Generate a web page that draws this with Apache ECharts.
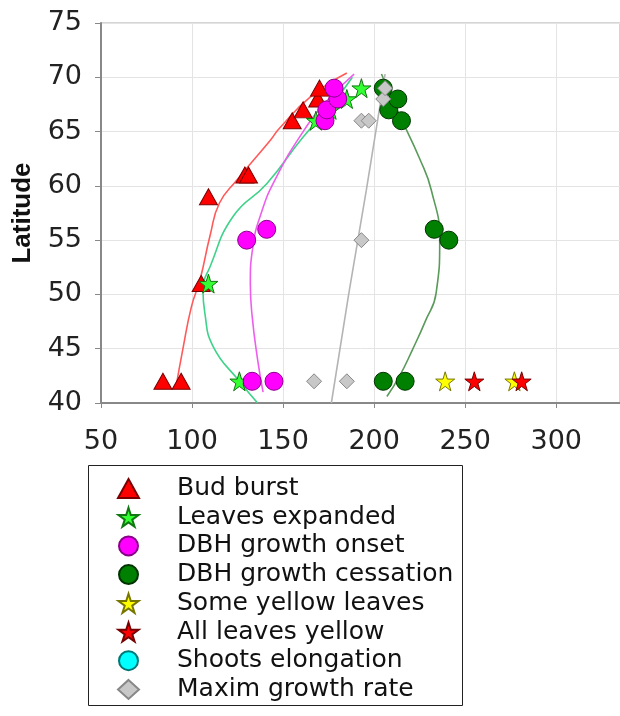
<!DOCTYPE html>
<html>
<head>
<meta charset="utf-8">
<script src="https://cdn.jsdelivr.net/npm/echarts@6/dist/echarts.min.js"></script>
<style>
  html, body { margin: 0; padding: 0; background: #fff; }
  #chart { width: 620px; height: 716px; }
</style>
</head>
<body>
<div id="chart"></div>
<script>
  // points: [day of year, latitude]
  var budBurst = [[84, 42], [94, 42], [105, 51], [109, 59], [129, 61], [131, 61], [155, 66], [161, 67], [169, 68], [170, 69]];
  var leavesExpanded = [[109, 51], [126, 42], [168, 66], [176, 67], [185, 68], [193, 69]];
  var dbhOnset = [[130, 55], [141, 56], [133, 42], [145, 42], [173, 66], [174, 67], [180, 68], [178, 69]];
  var dbhCessation = [[205, 42], [217, 42], [233, 56], [241, 55], [215, 66], [208, 67], [213, 68], [205, 69]];
  var someYellow = [[239, 42], [277, 42]];
  var allYellow = [[255, 42], [281, 42]];
  var shootsElong = [];
  var maxGrowth = [[167, 42], [185, 42], [193, 55], [193, 66], [197, 66], [205, 68], [206, 69]];

  // fitted curves
  var fitBudBurst = [[91, 41.3], [95, 45], [99.7, 48.9], [104.3, 51.3], [110, 55.5], [115, 58.4], [124.4, 60.5], [143, 64.2], [148, 65.3], [165, 68.2], [185, 70.4]];
  var fitLeaves = [[136, 40], [126, 42], [111.6, 45.2], [107, 48.3], [106, 50.4], [110, 52.6], [122.6, 57.2], [141, 60.2], [161, 64.5], [176, 67.3], [188, 70]];
  var fitOnset = [[139, 41], [136, 44], [133, 48], [132, 51], [133.4, 54.4], [138, 57.5], [145.4, 60.5], [161, 65], [175, 68], [189, 70.3]];
  var fitCessation = [[207, 40.6], [214, 42.5], [221, 44.9], [228, 47.5], [234, 50.1], [236, 55], [231.4, 59.6], [225, 62.5], [214, 66.5], [204, 70.3]];
  var fitMaxGrowth = [[176.5, 40], [186, 50], [195.7, 59.6], [206, 70.3]];

  var xTicks = [50, 100, 150, 200, 250, 300];
  var yTicks = [40, 45, 50, 55, 60, 65, 70, 75];

  var starPath = 'path://M50,0 L61,35 L98,35 L68,57 L79,91 L50,70 L21,91 L32,57 L2,35 L39,35 Z';
  var legendNames = ['Bud burst', 'Leaves expanded', 'DBH growth onset', 'DBH growth cessation',
    'Some yellow leaves', 'All leaves yellow', 'Shoots elongation', 'Maxim growth rate'];

  function fitLine(data, color) {
    return {
      type: 'line', data: data, smooth: 0.5, symbol: 'none', silent: true, z: 1,
      lineStyle: { color: color, width: 1.6 }
    };
  }

  function dots(name, data, symbol, size, color, border) {
    return {
      name: name, type: 'scatter', data: data, symbol: symbol, symbolSize: size, z: 3,
      itemStyle: { color: color, borderColor: border, borderWidth: 1, opacity: 1 }
    };
  }

  var chart = echarts.init(document.getElementById('chart'));
  chart.setOption({
    animation: false,
    backgroundColor: '#fff',
    grid: { left: 101, top: 23, right: 0, bottom: 313, show: true, borderColor: '#aaa', borderWidth: 1 },
    xAxis: {
      type: 'value', min: 50, max: 335, interval: 50,
      axisLine: { lineStyle: { color: '#888', width: 2 } },
      axisTick: { lineStyle: { color: '#888' }, length: 5 },
      splitLine: { lineStyle: { color: '#e4e4e4' } },
      axisLabel: {
        color: '#222', fontSize: 27, fontFamily: 'DejaVu Sans', margin: 25, showMaxLabel: false,
        formatter: function (v) { return xTicks.indexOf(v) >= 0 ? String(v) : ''; }
      }
    },
    yAxis: {
      type: 'value', min: 40, max: 75, interval: 5,
      name: 'Latitude', nameLocation: 'middle', nameGap: 65, nameRotate: 90,
      nameTextStyle: { fontSize: 26, fontWeight: 'bold', color: '#111', fontFamily: 'Liberation Sans' },
      axisLine: { lineStyle: { color: '#888', width: 2 } },
      axisTick: { lineStyle: { color: '#888' }, length: 6 },
      splitLine: { lineStyle: { color: '#e4e4e4' } },
      axisLabel: {
        color: '#222', fontSize: 27, fontFamily: 'DejaVu Sans', margin: 19,
        formatter: function (v) { return yTicks.indexOf(v) >= 0 ? String(v) : ''; }
      }
    },
    graphic: [{
      type: 'rect', left: 88, top: 465, z: 0,
      shape: { width: 374, height: 240 },
      style: { fill: '#fff', stroke: '#222', lineWidth: 1 }
    }],
    legend: {
      data: legendNames,
      orient: 'vertical', left: 88, top: 465, height: 240,
      padding: [11, 10, 4, 29],
      itemWidth: 21, itemHeight: 19, itemGap: 3.7,
      selectedMode: false,
      textStyle: { fontSize: 25, color: '#111', fontFamily: 'DejaVu Sans', padding: [0, 0, 0, 33] }
    },
    series: [
      fitLine(fitBudBurst, '#ff5a5a'),
      fitLine(fitLeaves, '#3fd28a'),
      fitLine(fitOnset, '#ee5eee'),
      fitLine(fitCessation, '#5a9a5a'),
      fitLine(fitMaxGrowth, '#b4b4b4'),
      dots('Bud burst', budBurst, 'triangle', [18, 16], '#ff0000', '#7a0000'),
      dots('Leaves expanded', leavesExpanded, starPath, 19, '#33ff33', '#117711'),
      dots('DBH growth onset', dbhOnset, 'circle', 18, '#ff00ff', '#880088'),
      dots('DBH growth cessation', dbhCessation, 'circle', 18, '#008000', '#003300'),
      dots('Some yellow leaves', someYellow, starPath, 19, '#ffff00', '#777700'),
      dots('All leaves yellow', allYellow, starPath, 19, '#ff0000', '#770000'),
      dots('Shoots elongation', shootsElong, 'circle', 18, '#00ffff', '#007777'),
      dots('Maxim growth rate', maxGrowth, 'diamond', 15, '#c8c8c8', '#888888')
    ]
  });
</script>
</body>
</html>
